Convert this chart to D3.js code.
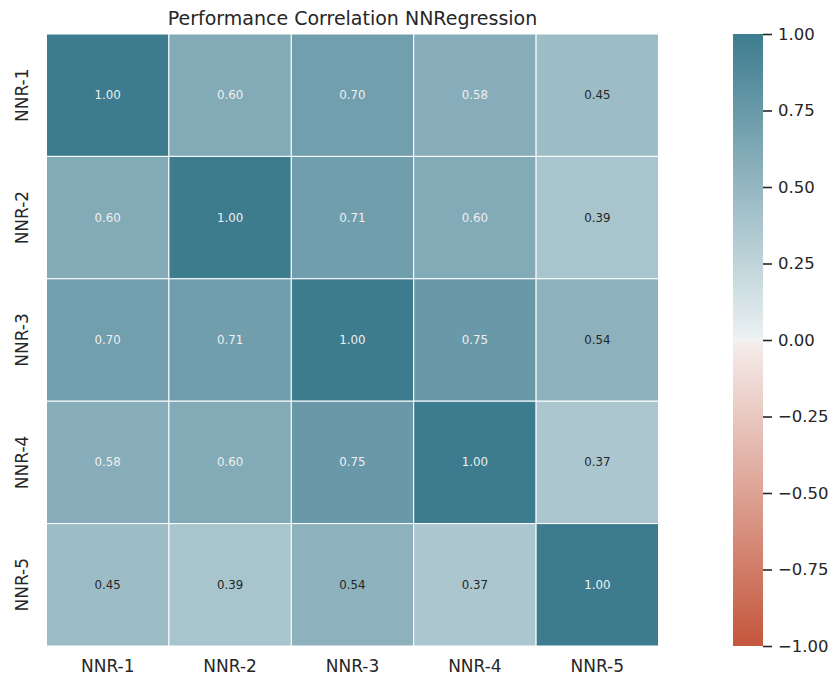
<!DOCTYPE html>
<html>
<head>
<meta charset="utf-8">
<script src="https://cdn.jsdelivr.net/npm/d3@7"></script>
<style>
  html, body { margin: 0; padding: 0; background: #ffffff; }
  svg { display: block; }
  text { font-family: "DejaVu Sans", sans-serif; }
</style>
</head>
<body>
<svg id="chart" width="834" height="681"></svg>
<script>
// Model names along both axes
const models = ["NNR-1", "NNR-2", "NNR-3", "NNR-4", "NNR-5"];

// Correlation matrix, one row per model
const row1 = [1.00, 0.60, 0.70, 0.58, 0.45];
const row2 = [0.60, 1.00, 0.71, 0.60, 0.39];
const row3 = [0.70, 0.71, 1.00, 0.75, 0.54];
const row4 = [0.58, 0.60, 0.75, 1.00, 0.37];
const row5 = [0.45, 0.39, 0.54, 0.37, 1.00];
const matrix = [row1, row2, row3, row4, row5];

// Colour bar ticks
const colorTicks = [-1.00, -0.75, -0.50, -0.25, 0.00, 0.25, 0.50, 0.75, 1.00];

const title = "Performance Correlation NNRegression";

const svg = d3.select("#chart");

const plot = { left: 46.5, top: 34, size: 612 };
const bar = { left: 733, width: 30 };

const x = d3.scaleBand().domain(models).range([plot.left, plot.left + plot.size]);
const y = d3.scaleBand().domain(models).range([plot.top, plot.top + plot.size]);

// Diverging palette: warm red through light grey to teal
const negEnd = d3.rgb(196, 86, 60);
const negLight = d3.rgb(245, 237, 235);
const mid = d3.rgb(242, 242, 242);
const posLight = d3.rgb(235, 241, 243);
const posEnd = d3.rgb(61, 124, 143);
const color = d3.scaleLinear()
  .domain([-1, -0.004, 0, 0.004, 1])
  .range([negEnd, negLight, mid, posLight, posEnd])
  .interpolate(d3.interpolateRgb)
  .clamp(true);

const cells = [];
matrix.forEach((row, i) => row.forEach((v, j) => cells.push({ r: models[i], c: models[j], v })));

svg.append("g").selectAll("rect")
  .data(cells)
  .join("rect")
  .attr("x", d => x(d.c))
  .attr("y", d => y(d.r))
  .attr("width", x.bandwidth())
  .attr("height", y.bandwidth())
  .attr("fill", d => color(d.v))
  .attr("stroke", "#ffffff")
  .attr("stroke-width", 1);

// Annotation text: light on dark cells, dark on light cells
function lum(c) {
  const f = u => { u /= 255; return u <= 0.03928 ? u / 12.92 : Math.pow((u + 0.055) / 1.055, 2.4); };
  const r = d3.rgb(c);
  return 0.2126 * f(r.r) + 0.7152 * f(r.g) + 0.0722 * f(r.b);
}
svg.append("g").selectAll("text")
  .data(cells)
  .join("text")
  .attr("x", d => x(d.c) + x.bandwidth() / 2)
  .attr("y", d => y(d.r) + y.bandwidth() / 2)
  .attr("text-anchor", "middle")
  .attr("dominant-baseline", "central")
  .attr("font-size", 11.8)
  .attr("fill", d => lum(color(d.v)) > 0.408 ? "#262626" : "#f0f0f0")
  .text(d => d.v.toFixed(2));

// Axis labels
const xAxis = d3.axisBottom(x).tickSize(0).tickPadding(14);
svg.append("g")
  .attr("transform", `translate(0,${plot.top + plot.size})`)
  .call(xAxis)
  .call(g => g.select(".domain").remove())
  .call(g => g.selectAll("text")
    .attr("font-size", 17).attr("fill", "#262626")
    .attr("font-family", "DejaVu Sans, sans-serif"));

const yAxis = d3.axisLeft(y).tickSize(0).tickPadding(0);
svg.append("g")
  .attr("transform", `translate(${plot.left},0)`)
  .call(yAxis)
  .call(g => g.select(".domain").remove())
  .call(g => g.selectAll("text")
    .attr("font-size", 17).attr("fill", "#262626")
    .attr("font-family", "DejaVu Sans, sans-serif")
    .attr("text-anchor", "middle")
    .attr("dy", null)
    .attr("x", null)
    .attr("transform", "translate(-25,0) rotate(-90)")
    .attr("dominant-baseline", "central"));

// Title
svg.append("text")
  .attr("x", plot.left + plot.size / 2)
  .attr("y", 25)
  .attr("text-anchor", "middle")
  .attr("font-size", 19)
  .attr("fill", "#262626")
  .text(title);

// Colour bar
const cy = d3.scaleLinear().domain([-1, 1]).range([plot.top + plot.size, plot.top]);
const defs = svg.append("defs");
const grad = defs.append("linearGradient")
  .attr("id", "cbar").attr("x1", 0).attr("y1", 1).attr("x2", 0).attr("y2", 0);
d3.range(0, 101).forEach(k => {
  const v = -1 + 2 * k / 100;
  grad.append("stop").attr("offset", `${k}%`).attr("stop-color", color(v));
});
svg.append("rect")
  .attr("x", bar.left)
  .attr("y", plot.top)
  .attr("width", bar.width)
  .attr("height", plot.size)
  .attr("fill", "url(#cbar)");

const cAxis = d3.axisRight(cy).tickValues(colorTicks).tickSize(9).tickPadding(6)
  .tickFormat(d => d3.format(".2f")(d).replace("-", "\u2212"));
svg.append("g")
  .attr("transform", `translate(${bar.left + bar.width},0)`)
  .call(cAxis)
  .call(g => g.select(".domain").remove())
  .call(g => g.selectAll("line").attr("stroke", "#262626").attr("stroke-width", 1.6))
  .call(g => g.selectAll("text")
    .attr("font-size", 16.5).attr("fill", "#262626")
    .attr("font-family", "DejaVu Sans, sans-serif"));
</script>
</body>
</html>
